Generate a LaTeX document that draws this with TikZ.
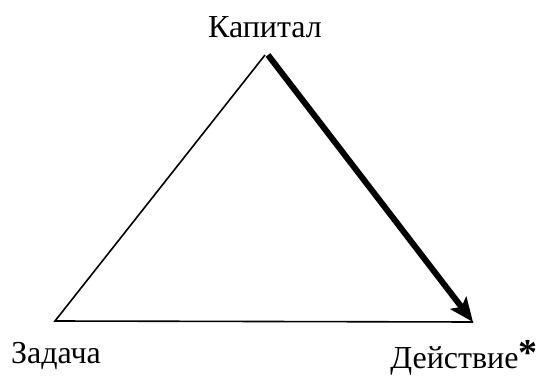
\documentclass[tikz,border=0pt]{standalone}
\usepackage{fontspec}
\setmainfont{Liberation Serif}
\usetikzlibrary{arrows.meta}
\tikzset{
    label text/.style={font=\fontsize{32}{38}\selectfont, inner sep=0pt}
}
\begin{document}
\begin{tikzpicture}[x=1pt, y=1pt]
        \useasboundingbox (0, 0) rectangle (539, 376);
        \coordinate (capital) at (265, 321);
        \coordinate (arrowstart) at (268, 321);
        \coordinate (task) at (55, 55);
        \coordinate (action) at (473, 54);
        \node (capitallabel) at (265, 349) [label text] {Капитал};
        \node (tasklabel) at (56, 20) [label text] {Задача};
        \node (actionlabel) at (464, 18) [label text] {Действие\raisebox{3pt}{\fontsize{38}{38}\selectfont\bfseries *}};
        \draw[line width=1.6pt, line join=miter] (capital) -- (task) -- (action);
        \draw[line width=6pt, -{Stealth[length=24pt, width=20pt, inset=5pt]}] (arrowstart) -- (action);
    \end{tikzpicture}
\end{document}
